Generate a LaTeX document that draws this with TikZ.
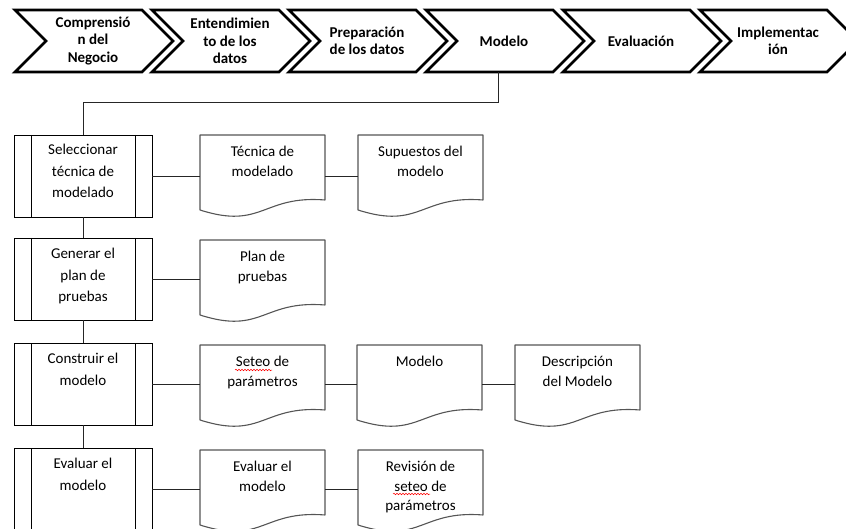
\documentclass[tikz,border=0pt]{standalone}
\usepackage{fontspec}
\setmainfont{Carlito}
\usetikzlibrary{decorations.pathmorphing}
\definecolor{docgray}{HTML}{555555}
\tikzset{
  chevline/.style={draw=black, line width=2.8pt, line join=miter},
  chevtext/.style={align=center, inner sep=0pt, font=\bfseries\fontsize{15}{17.5}\selectfont},
  proc/.style={draw=black, line width=0.9pt, minimum width=138pt, minimum height=82pt, inner sep=0pt,
    path picture={\draw[line width=0.9pt] ([xshift=17pt]path picture bounding box.north west) -- ([xshift=17pt]path picture bounding box.south west);
                  \draw[line width=0.9pt] ([xshift=-17pt]path picture bounding box.north east) -- ([xshift=-17pt]path picture bounding box.south east);}},
  proctext/.style={align=center, inner sep=0pt, anchor=north, font=\fontsize{15}{21.5}\selectfont},
  docbox/.style={minimum width=125pt, minimum height=82pt, inner sep=0pt},
  docline/.style={draw=docgray, line width=1.1pt, line join=round},
  doctext/.style={align=center, inner sep=0pt, anchor=north, font=\fontsize{15}{19.5}\selectfont},
  conn/.style={draw=black!85, line width=0.9pt},
  spell/.style={draw=red, line width=0.5pt, decorate, decoration={snake, amplitude=0.8pt, segment length=3pt}}
}
\newcommand\chevron[3]{%
  \draw[chevline] (#1,10) -- (#1+127,10) -- (#1+158,41) -- (#1+127,72) -- (#1,72) -- (#1+31,41) -- cycle;
  \node[chevtext] (#2) at (#1+78,41) {#3};}
\newcommand\docshape[4]{%
  \node[docbox] (#1) at (#2+62.5,#3+41) {};
  \draw[docline] (#2,#3) -- (#2+125,#3) -- (#2+125,#3+65) .. controls (#2+62.5,#3+60) and (#2+62.5,#3+95) .. (#2,#3+75) -- cycle;
  \node[doctext] (#1t) at (#2+62.5,#3+11) {#4};}
\begin{document}
\begin{tikzpicture}[x=1pt,y=-1pt]
\useasboundingbox (0,0) rectangle (846,529);
\clip (0,0) rectangle (846,529);
% chevrons
\chevron{15}{ch1}{Comprensió\\n del\\Negocio}
\chevron{152}{ch2}{Entendimien\\to de los\\datos}
\chevron{289}{ch3}{Preparación\\de los datos}
\chevron{426}{ch4}{Modelo}
\chevron{563}{ch5}{Evaluación}
\chevron{700}{ch6}{Implementac\\ión}
\coordinate (ch4b) at (498,72);
% process boxes
\node[proc] (p1) at (83,176) {};
\node[proctext] (p1t) at (83,144) {Seleccionar\\técnica de\\modelado};
\node[proc] (p2) at (83,279) {};
\node[proctext] (p2t) at (83,248) {Generar el\\plan de\\pruebas};
\node[proc] (p3) at (83,384) {};
\node[proctext] (p3t) at (83,353) {Construir el\\modelo};
\node[proc] (p4) at (83,489) {};
\node[proctext] (p4t) at (83,458) {Evaluar el\\modelo};
% documents
\docshape{d11}{200}{135}{Técnica de\\modelado}
\docshape{d12}{358}{135}{Supuestos del\\modelo}
\docshape{d21}{200}{240}{Plan de\\pruebas}
\docshape{d31}{200}{345}{Seteo de\\parámetros}
\docshape{d32}{357}{345}{Modelo}
\docshape{d33}{515}{345}{Descripción\\del Modelo}
\docshape{d41}{200}{450}{Evaluar el\\modelo}
\docshape{d42}{358}{450}{Revisión de\\seteo de\\parámetros}
% spell-check marks
\draw[spell] (235,370) -- (272,370);
\draw[spell] (393,494) -- (430,494);
% connectors
\draw[conn] (ch4b) -- ++(0,30) -| (p1.north);
\draw[conn] (p1.south) -- (p2.north);
\draw[conn] (p2.south) -- (p3.north);
\draw[conn] (p3.south) -- (p4.north);
\draw[conn] (p1.east) -- (p1.east -| d11.west);
\draw[conn] (p1.east -| d11.east) -- (p1.east -| d12.west);
\draw[conn] (p2.east) -- (p2.east -| d21.west);
\draw[conn] (p3.east) -- (p3.east -| d31.west);
\draw[conn] (p3.east -| d31.east) -- (p3.east -| d32.west);
\draw[conn] (p3.east -| d32.east) -- (p3.east -| d33.west);
\draw[conn] (p4.east) -- (p4.east -| d41.west);
\draw[conn] (p4.east -| d41.east) -- (p4.east -| d42.west);
\end{tikzpicture}
\end{document}
